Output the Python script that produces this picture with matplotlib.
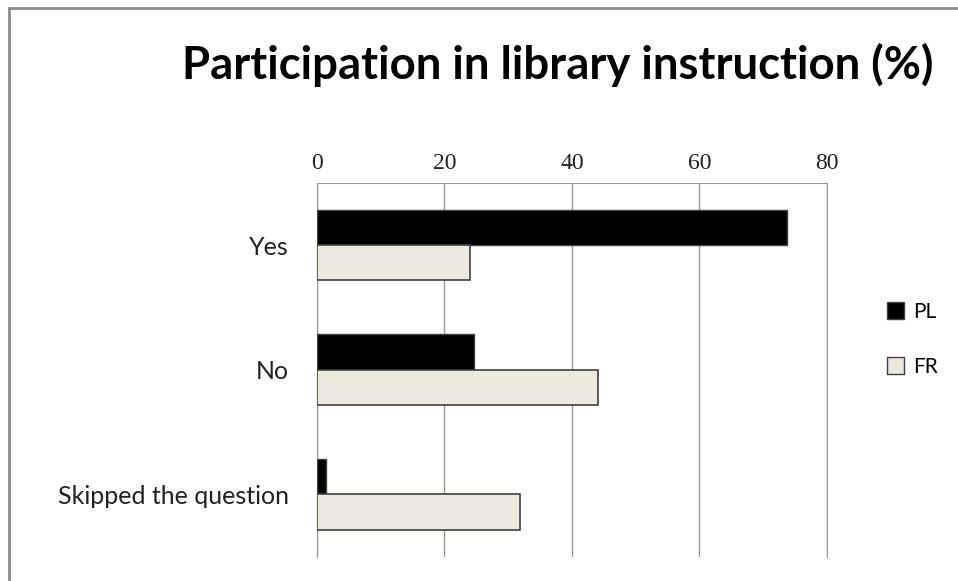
import numpy as np
import matplotlib.pyplot as plt
from matplotlib.patches import Rectangle, Patch

# values (%)
categories = ["Yes", "No", "Skipped the question"]
pl_values = [73.8, 24.7, 1.5]
fr_values = [24.1, 44.1, 31.9]
x_ticks = [0, 20, 40, 60, 80]

fig = plt.figure(figsize=(9.58, 5.81), dpi=100)
ax = fig.add_axes([0.3306, 0.0418, 0.5327, 0.6437])

y = np.arange(len(categories))
h = 0.284
ax.barh(y - h / 2, pl_values, height=h, color="black", edgecolor="#404040", linewidth=1, label="PL", zorder=3)
ax.barh(y + h / 2, fr_values, height=h, color="#ECEADF", edgecolor="#404040", linewidth=1.2, label="FR", zorder=3)

ax.set_xlim(0, 80)
ax.set_ylim(2.5, -0.5)
ax.set_xticks(x_ticks)
ax.xaxis.tick_top()
ax.tick_params(axis="x", length=0, pad=6, labelsize=17, labelcolor="#222222")
ax.tick_params(axis="y", length=0, pad=20, labelsize=18, labelcolor="#222222")
for lab in ax.get_xticklabels():
    lab.set_family("Liberation Serif")
ax.set_yticks(y)
ax.set_yticklabels(categories, family="Lato")
ax.grid(axis="x", color="#999999", linewidth=1, zorder=0)

for s in ["top", "left", "right"]:
    ax.spines[s].set_color("#999999")
ax.spines["bottom"].set_visible(False)

fig.text(0.5825, 0.889, "Participation in library instruction (%)", ha="center", va="center",
         fontsize=32.8, fontweight="bold", family="Lato")

handles = [Patch(facecolor="black", edgecolor="#404040", label="PL"),
           Patch(facecolor="#ECEADF", edgecolor="#404040", label="FR")]
fig.legend(handles=handles, loc="center left", bbox_to_anchor=(0.906, 0.416), frameon=False,
           handlelength=0.85, handleheight=0.85, handletextpad=0.4, labelspacing=1.7,
           prop={"family": "Lato", "size": 15})

# outer chart border (only top/left visible in the crop)
fig.patches.append(Rectangle((9 / 958, -0.1), 1.2, 1 - 8 / 581 + 0.1, transform=fig.transFigure,
                             fill=False, edgecolor="#8c8c8c", linewidth=2))

fig.savefig("out.png", dpi=100)
